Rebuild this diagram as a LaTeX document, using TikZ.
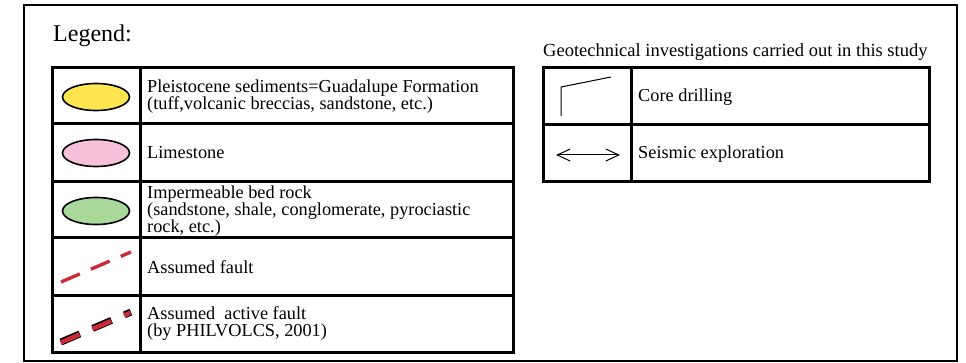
\documentclass[tikz,border=0pt]{standalone}
\usepackage{fontspec}
\setmainfont{Liberation Serif}
\usetikzlibrary{shapes.geometric,arrows.meta,positioning,calc}
\definecolor{sedyellow}{HTML}{FFE54F}
\definecolor{limepink}{HTML}{F8BFD9}
\definecolor{rockgreen}{HTML}{A9D89B}
\definecolor{faultred}{HTML}{CC2A36}

\begin{document}
\begin{tikzpicture}[x=1pt,y=-1pt,
    frame/.style={draw,line width=3pt},
    unit/.style={ellipse,draw,line width=1.6pt,minimum width=67pt,minimum height=27pt,inner sep=0pt},
    txt/.style={anchor=west,align=left,inner sep=0pt,font=\fontsize{18.3}{17}\selectfont}]
    \useasboundingbox (0,0) rectangle (966,363);

    % Outer frame
    \draw[line width=2.6pt] (24,5) rectangle (957,361);
    \node[anchor=base west,inner sep=0pt,font=\fontsize{24}{24}\selectfont] (legend) at (53,42) {Legend:};

    % Geological units
    \draw[frame] (52,68) rectangle (513,352);
    \draw[frame] (140,68) -- (140,352);
    \foreach \y in {124,182,238,295}
        \draw[frame] (52,\y) -- (513,\y);

    \node[unit,fill=sedyellow] (pleist) at (96,97) {};
    \node[unit,fill=limepink] (lime) at (96,153) {};
    \node[unit,fill=rockgreen] (bedrock) at (96,211) {};

    \node[txt] (pleisttxt) at (147,97) {Pleistocene sediments=Guadalupe Formation\\(tuff,volcanic breccias, sandstone, etc.)};
    \node[txt] (limetxt) at (147,153) {Limestone};
    \node[txt] (bedrocktxt) at (147,211) {Impermeable bed rock\\(sandstone, shale, conglomerate, pyrociastic\\rock, etc.)};
    \node[txt] (faulttxt) at (147,267) {Assumed fault};
    \node[txt] (activetxt) at (147,324) {Assumed\ \ active fault\\(by PHILVOLCS, 2001)};

    % Faults
    \coordinate (f1) at (61,282);
    \coordinate (f2) at (131,252);
    \draw[faultred,line width=3.4pt,dash pattern=on 20.5pt off 12pt] (f1) -- (f2);
    \coordinate (a1) at (61,342);
    \coordinate (a2) at (131,312);
    \draw[black,line width=7pt,dash pattern=on 20.5pt off 14pt on 20.5pt off 14pt on 7pt off 30pt] (a1) -- (a2);
    \draw[faultred,line width=4.4pt,dash pattern=on 20.5pt off 14pt on 20.5pt off 14pt on 7pt off 30pt,transform canvas={shift={(-0.4pt,-0.6pt)}}] (a1) -- (a2);

    % Investigations
    \node[anchor=base west,inner sep=0pt,font=\fontsize{18.5}{18.5}\selectfont] (geotitle) at (543,57) {Geotechnical investigations carried out in this study};
    \draw[frame] (543,68) rectangle (929,182);
    \draw[frame] (631,68) -- (631,182);
    \draw[frame] (543,125) -- (929,125);

    \coordinate (c1) at (561,116);
    \coordinate (c2) at (561,87);
    \coordinate (c3) at (611,77);
    \draw[line width=1pt] (c1) -- (c2) -- (c3);
    \node[txt] (coretxt) at (638,97) {Core drilling};

    \coordinate (s1) at (556,155);
    \coordinate (s2) at (620,155);
    \draw[line width=1pt,{Straight Barb[length=13pt,width=12pt]}-{Straight Barb[length=13pt,width=12pt]}] (s1) -- (s2);
    \node[txt] (seistxt) at (638,154) {Seismic exploration};
\end{tikzpicture}
\end{document}
